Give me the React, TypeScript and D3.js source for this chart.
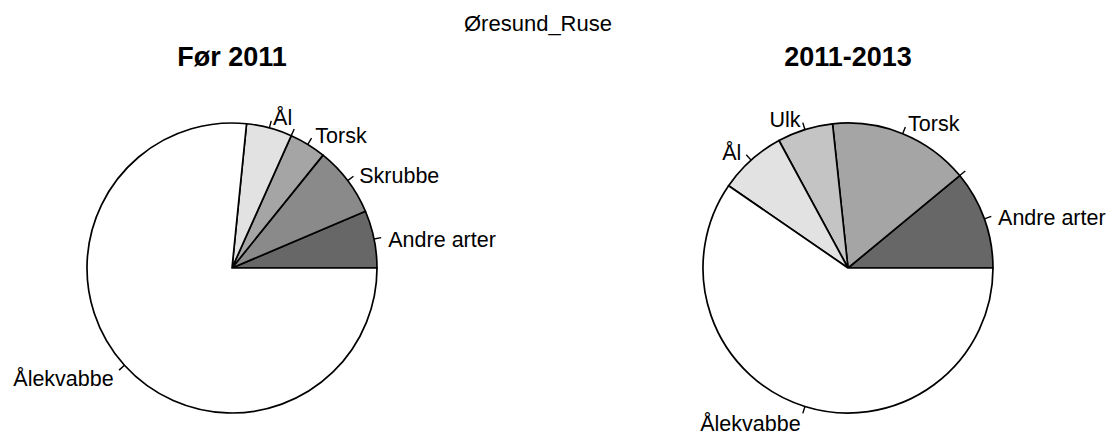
import React from "react";
import * as d3 from "d3";

const species = ["Andre arter", "Skrubbe", "Torsk", "Ulk", "Ål", "Ålekvabbe"];
const colors = ["#676767", "#8a8a8a", "#a5a5a5", "#c4c4c4", "#e2e2e2", "#ffffff"];
const valuesBefore = [6.4, 7.8, 4.1, 0, 5.1, 76.6];
const valuesAfter = [11.0, 0, 15.7, 6.2, 7.5, 59.6];
const titleMain = "Øresund_Ruse";
const panelTitles = ["Før 2011", "2011-2013"];

const W = 1114;
const H = 436;
const R = 145;
const centers = [
  [232, 268],
  [848, 268],
];

function Pie({ values, cx, cy, title }: { values: number[]; cx: number; cy: number; title: string }) {
  const pie = d3
    .pie<number>()
    .sort(null)
    .value((d) => d)
    .startAngle(Math.PI / 2)
    .endAngle(Math.PI / 2 - 2 * Math.PI);
  const arcs = pie(values);
  const arc = d3.arc<d3.PieArcDatum<number>>().innerRadius(0).outerRadius(R);
  return (
    <g>
      <text x={cx} y={66} textAnchor="middle" fontFamily="Liberation Sans, Arial, sans-serif" fontWeight="bold" fontSize={27}>
        {title}
      </text>
      <g transform={`translate(${cx},${cy})`}>
        {arcs.map((a, i) =>
          a.value > 0 ? (
            <path key={"s" + i} d={arc(a) || ""} fill={colors[i]} stroke="#000" strokeWidth={1.7} strokeLinejoin="round" />
          ) : null
        )}
        {arcs.map((a, i) => {
          const mid = (a.startAngle + a.endAngle) / 2;
          const sx = Math.sin(mid);
          const sy = -Math.cos(mid);
          return (
            <g key={"l" + i}>
              <line x1={sx * R} y1={sy * R} x2={sx * R * 1.05} y2={sy * R * 1.05} stroke="#000" strokeWidth={1.4} />
              {a.value > 0 ? (
                <text
                  x={sx * R * 1.1}
                  y={sy * R * 1.1 + 4}
                  textAnchor={sx < 0 ? "end" : "start"}
                  dominantBaseline="central"
                  fontFamily="Liberation Sans, Arial, sans-serif"
                  fontSize={21.5}
                  fill="#000"
                >
                  {species[i]}
                </text>
              ) : null}
            </g>
          );
        })}
      </g>
    </g>
  );
}

export default function App() {
  return (
    <svg width={W} height={H} style={{ position: "absolute", left: 0, top: 0, background: "#fff" }}>
      <rect width={W} height={H} fill="#fff" />
      <text x={538} y={31} textAnchor="middle" fontFamily="Liberation Sans, Arial, sans-serif" fontSize={22}>
        {titleMain}
      </text>
      <Pie values={valuesBefore} cx={centers[0][0]} cy={centers[0][1]} title={panelTitles[0]} />
      <Pie values={valuesAfter} cx={centers[1][0]} cy={centers[1][1]} title={panelTitles[1]} />
    </svg>
  );
}
